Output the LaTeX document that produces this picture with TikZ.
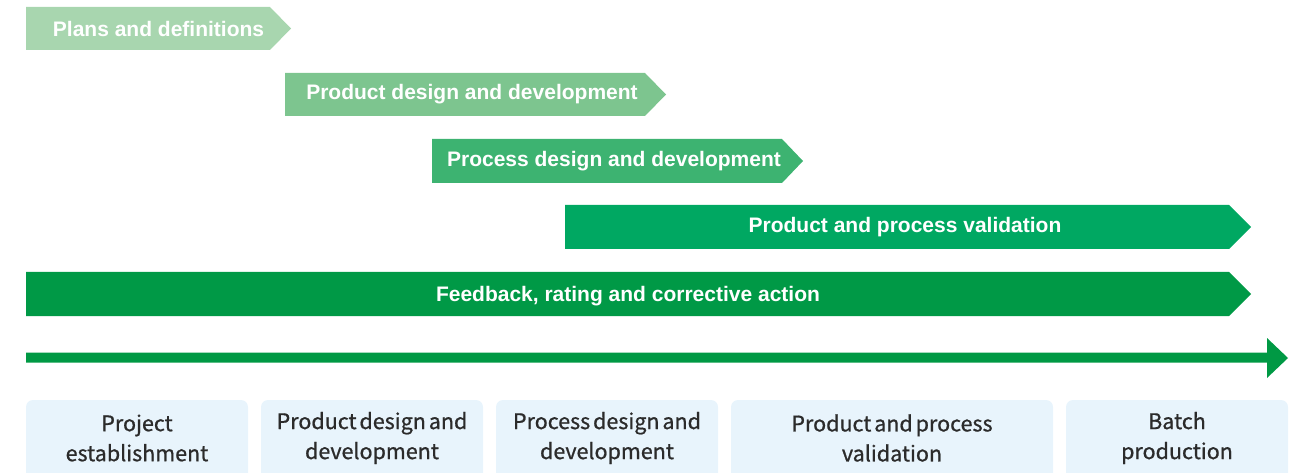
\documentclass[tikz,border=0pt]{standalone}
\usepackage{fontspec}
\setmainfont{Liberation Sans}
\newfontfamily\boxfont[FakeBold=0.8,WordSpace=0.6]{Noto Sans CJK SC}
\definecolor{gA}{HTML}{A8D6AF}
\definecolor{gB}{HTML}{7DC58F}
\definecolor{gC}{HTML}{3DB371}
\definecolor{gD}{HTML}{00A862}
\definecolor{gE}{HTML}{009946}
\definecolor{gT}{HTML}{009944}
\definecolor{boxbg}{HTML}{E8F4FC}
\definecolor{boxtxt}{HTML}{2B2B2B}
\tikzset{
  bartext/.style={text=white,font=\bfseries\fontsize{21}{24}\selectfont,inner sep=0pt},
  phasebox/.style={fill=boxbg,rounded corners=7pt},
  phasetext/.style={text=boxtxt,font=\boxfont\fontsize{21.5}{30}\selectfont,align=center,inner sep=0pt}
}
\begin{document}
\begin{tikzpicture}[x=1pt,y=-1pt]
\useasboundingbox (0,0) rectangle (1302,473);
% bars
\fill[gA] (26,7) -- (270,7) -- (291,28.5) -- (270,50) -- (26,50) -- cycle;
\node[bartext] (b1) at (158.5,28.5) {Plans and definitions};
\fill[gB] (285,73) -- (645,73) -- (666,94.5) -- (645,116) -- (285,116) -- cycle;
\node[bartext] (b2) at (472,94.5) {Product design and development};
\fill[gC] (432,139) -- (782,139) -- (803,161) -- (782,183) -- (432,183) -- cycle;
\node[bartext] (b3) at (614,161) {Process design and development};
\fill[gD] (565,205) -- (1229,205) -- (1251,227) -- (1229,249) -- (565,249) -- cycle;
\node[bartext] (b4) at (905,227) {Product and process validation};
\fill[gE] (26,272) -- (1229,272) -- (1251,294) -- (1229,316) -- (26,316) -- cycle;
\node[bartext] (b5) at (628,296) {Feedback, rating and corrective action};
% timeline
\coordinate (ts) at (26,357.5);
\coordinate (te) at (1288,357.5);
\fill[gT] (26,352.5) -- (1267,352.5) -- (1267,338) -- (1288,358) -- (1267,378) -- (1267,362.5) -- (26,362.5) -- cycle;
% phase boxes
\fill[phasebox] (26,400) rectangle (248,490);
\fill[phasebox] (261,400) rectangle (483,490);
\fill[phasebox] (496,400) rectangle (718,490);
\fill[phasebox] (731,400) rectangle (1053,490);
\fill[phasebox] (1066,400) rectangle (1288,490);
\node[phasetext] (p1) at (137,438) {Project\\establishment};
\node[phasetext] (p2) at (372,438) {Product design and\\development};
\node[phasetext] (p3) at (607,438) {Process design and\\development};
\node[phasetext] (p4) at (892,438) {Product and process\\validation};
\node[phasetext] (p5) at (1177,438) {Batch\\production};
\end{tikzpicture}
\end{document}
